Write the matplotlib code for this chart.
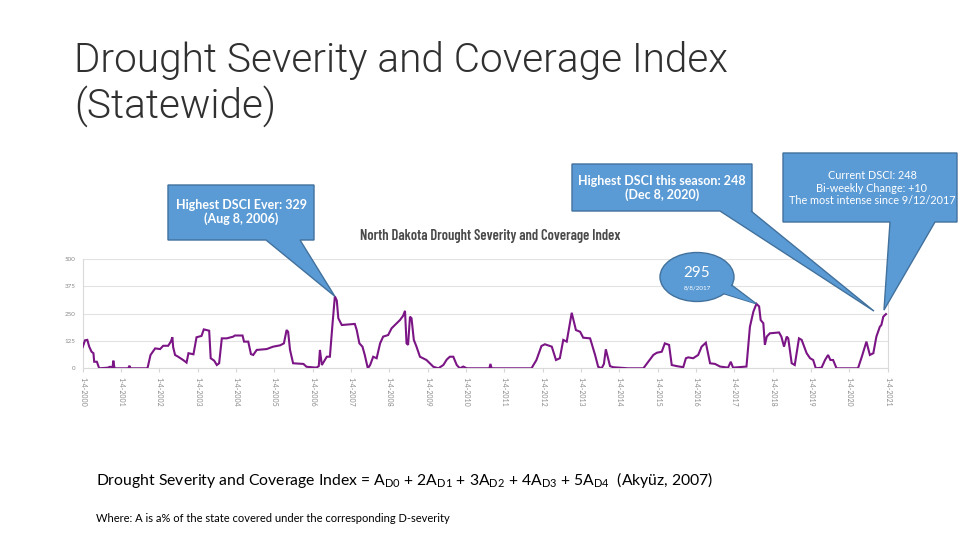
import matplotlib
matplotlib.use("Agg")
import matplotlib.pyplot as plt
from matplotlib.patches import Polygon, Ellipse
import numpy as np

# ---------------- data ----------------
years = [2000.00, 2000.06, 2000.12, 2000.17, 2000.23, 2000.28, 2000.30, 2000.37, 2000.43,
         2000.66, 2000.71, 2000.78, 2000.80, 2000.83, 2001.19, 2001.22, 2001.24,
         2001.69, 2001.77, 2001.89, 2002.02, 2002.10, 2002.23, 2002.30, 2002.34, 2002.36,
         2002.41, 2002.49, 2002.62, 2002.71, 2002.76, 2002.89, 2002.97, 2003.10, 2003.16,
         2003.30, 2003.34, 2003.43, 2003.50, 2003.56, 2003.63, 2003.76, 2003.93, 2003.97,
         2004.17, 2004.21, 2004.32, 2004.39, 2004.45, 2004.54, 2004.80, 2004.97, 2005.15,
         2005.25, 2005.32, 2005.36, 2005.41, 2005.49, 2005.76, 2005.84, 2006.10, 2006.16,
         2006.19, 2006.24, 2006.37, 2006.45, 2006.52, 2006.58, 2006.63, 2006.67, 2006.76,
         2007.10, 2007.15, 2007.22, 2007.30, 2007.36, 2007.44, 2007.50, 2007.58, 2007.67,
         2007.76, 2007.84, 2007.97, 2008.06, 2008.28, 2008.36, 2008.41, 2008.45, 2008.49,
         2008.54, 2008.58, 2008.64, 2008.71, 2008.80, 2008.97, 2009.15, 2009.28, 2009.41,
         2009.50, 2009.58, 2009.67, 2009.76, 2009.84, 2009.93, 2010.02, 2010.61, 2010.64,
         2010.67, 2011.71, 2011.84, 2011.97, 2012.06, 2012.24, 2012.35, 2012.45, 2012.54,
         2012.63, 2012.76, 2012.87, 2012.98, 2013.06, 2013.24, 2013.37, 2013.45, 2013.54,
         2013.60, 2013.65, 2013.76, 2013.84, 2014.23, 2014.63, 2014.89, 2014.98, 2015.11,
         2015.19, 2015.30, 2015.37, 2015.50, 2015.67, 2015.74, 2015.80, 2015.93, 2016.06,
         2016.15, 2016.26, 2016.37, 2016.50, 2016.63, 2016.84, 2016.91, 2016.97, 2017.32,
         2017.41, 2017.50, 2017.58, 2017.65, 2017.69, 2017.76, 2017.80, 2017.85, 2017.93,
         2018.17, 2018.23, 2018.30, 2018.37, 2018.41, 2018.50, 2018.58, 2018.69, 2018.76,
         2018.89, 2018.98, 2019.06, 2019.13, 2019.28, 2019.37, 2019.45, 2019.51, 2019.58,
         2019.67, 2020.23, 2020.33, 2020.45, 2020.54, 2020.63, 2020.71, 2020.80, 2020.84,
         2020.89, 2020.96]
dsci = [97, 128, 130, 99, 76, 69, 30, 30, 0,
        3, 7, 5, 35, 0, 0, 12, 0,
        0, 61, 91, 88, 103, 103, 122, 142, 97,
        61, 53, 38, 26, 69, 64, 142, 148, 178,
        172, 46, 35, 15, 23, 137, 137, 145, 150,
        150, 122, 122, 65, 61, 84, 88, 99, 105,
        114, 175, 167, 84, 23, 20, 7, 3, 10,
        84, 15, 53, 53, 206, 329, 310, 229, 198,
        203, 175, 114, 99, 61, 0, 15, 53, 46,
        114, 145, 152, 183, 221, 240, 263, 114, 107,
        236, 229, 130, 99, 53, 38, 7, 0, 15,
        40, 53, 53, 15, 0, 8, 0, 0, 20,
        0, 0, 38, 102, 110, 99, 38, 46, 130,
        122, 254, 175, 167, 140, 137, 61, 7, 0,
        20, 87, 10, 5, 0, 0, 61, 71, 76,
        114, 107, 15, 10, 5, 46, 50, 46, 61,
        99, 117, 23, 20, 8, 3, 30, 3, 8,
        190, 259, 295, 283, 221, 206, 107, 145, 160,
        164, 145, 99, 145, 137, 23, 15, 137, 130,
        69, 46, 38, 0, 3, 38, 61, 38, 38,
        0, 0, 53, 122, 61, 69, 145, 190, 198,
        236, 248]
tick_years = list(range(2000, 2022))
tick_labels = ["1-4-%d" % y for y in tick_years]
y_ticks = [0, 125, 250, 375, 500]

# ---------------- figure ----------------
plt.rcParams['font.family'] = ['Lato', 'DejaVu Sans']
plt.rcParams['mathtext.fontset'] = 'custom'
plt.rcParams['mathtext.rm'] = 'Lato'
plt.rcParams['mathtext.it'] = 'Lato'
fig = plt.figure(figsize=(9.6, 5.4), dpi=100)
fig.patch.set_facecolor('white')

ax = fig.add_axes([82.7 / 960, 1 - 368.3 / 540, (887.5 - 82.7) / 960, (368.3 - 259.0) / 540])
ax.plot(years, dsci, color='#7b1585', lw=1.5, solid_joinstyle='miter', zorder=3)
ax.set_xlim(2000.0, 2021.0)
ax.set_ylim(0, 500)
ax.set_yticks(y_ticks)
ax.set_yticklabels([str(v) for v in y_ticks], fontsize=4.5, color='#8a8a8a')
ax.set_xticks([float(y) for y in tick_years])
ax.set_xticklabels(tick_labels, rotation=-90, fontsize=5, color='#8a8a8a', va='top', ha='center')
ax.tick_params(axis='y', length=0, pad=5)
ax.tick_params(axis='x', length=3, color='#d6d6d6', pad=3)
ax.grid(axis='y', color='#e2e2e2', lw=0.8)
ax.spines['top'].set_visible(False)
for s in ['left', 'right', 'bottom']:
    ax.spines[s].set_color('#dadada')
    ax.spines[s].set_linewidth(0.8)

# overlay in pixel coordinates
ov = fig.add_axes([0, 0, 1, 1], zorder=10)
ov.set_xlim(0, 960)
ov.set_ylim(540, 0)
ov.axis('off')
ov.patch.set_alpha(0)


def to_px(x, y):
    dx, dy = ax.transData.transform((x, y))
    return dx, 540 - dy


fill = '#5b9bd5'
edge = '#41719c'

# slide title
ov.text(74, 72, "Drought Severity and Coverage Index", fontsize=29.2, fontweight=300,
        family=['Roboto', 'Lato', 'DejaVu Sans'],
        color='#303030', va='baseline', ha='left')
ov.text(74, 118, "(Statewide)", fontsize=29.2, fontweight=300,
        family=['Roboto', 'Lato', 'DejaVu Sans'],
        color='#303030', va='baseline', ha='left')

# chart title
ov.text(490, 236, "North Dakota Drought Severity and Coverage Index", fontsize=10.5,
        fontweight=600, color='#4a4a4a', ha='center', va='center',
        family=['Barlow Condensed', 'Fira Sans Extra Condensed', 'DejaVu Sans'])

# callout 1: highest ever
i_max = int(np.argmax(dsci))
tx, ty = to_px(years[i_max], dsci[i_max])
ov.add_patch(Polygon([(168, 185), (314, 185), (314, 240), (300, 240), (tx, ty), (266, 240),
                      (168, 240)], closed=True, fc=fill, ec=edge, lw=1.0))
ov.text(241, 212, "Highest DSCI Ever: %d\n(Aug 8, 2006)" % dsci[i_max], fontsize=9,
        fontweight='bold', color='white', ha='center', va='center', linespacing=1.2)

# callout 2: highest this season
tx, ty = to_px(years[-1], dsci[-1])
ov.add_patch(Polygon([(572, 164), (752, 164), (752, 211), (751, 211), (tx - 12, ty - 3),
                      (720, 211), (572, 211)], closed=True, fc=fill, ec=edge, lw=1.0))
ov.text(662, 188, "Highest DSCI this season: %d\n(Dec 8, 2020)" % dsci[-1], fontsize=9,
        fontweight='bold', color='white', ha='center', va='center', linespacing=1.2)

# callout 3: current
ov.add_patch(Polygon([(783, 153), (957, 153), (957, 222), (935, 222), (tx - 2, ty - 4),
                      (890, 222), (783, 222)], closed=True, fc=fill, ec=edge, lw=1.0))
ov.text(872, 188, "Current DSCI: %d\nBi-weekly Change: +10\nThe most intense since 9/12/2017" % dsci[-1],
        fontsize=7.8, color='white', ha='center', va='center', linespacing=1.15)

# callout 4: 2017 peak ellipse
i17 = int(np.argmax(dsci[140:])) + 140
tx, ty = to_px(years[i17], dsci[i17])
ov.add_patch(Polygon([(712, 290), (tx, ty), (725, 280)], closed=True, fc=fill, ec=edge, lw=1.0))
ov.add_patch(Ellipse((697, 277), 74, 49, fc=fill, ec=edge, lw=1.0))
ov.add_patch(Polygon([(711, 289), (tx - 1.5, ty - 0.5), (724, 281)], closed=True, fc=fill, ec='none'))
ov.text(697, 273, "%d" % dsci[i17], fontsize=11, color='white', ha='center', va='center')
ov.text(697, 288, "8/8/2017", fontsize=4.5, color='white', ha='center', va='center')

# formula
ov.text(96, 480, r"Drought Severity and Coverage Index = A$_{\rm D0}$ + 2A$_{\rm D1}$ + 3A$_{\rm D2}$"
        r" + 4A$_{\rm D3}$ + 5A$_{\rm D4}$  (Akyüz, 2007)",
        fontsize=11.3, color='black', ha='left', va='center')
ov.text(96, 518, "Where: A is a% of the state covered under the corresponding D-severity",
        fontsize=8, color='black', ha='left', va='center')

fig.savefig("out.png", dpi=100, facecolor='white')
